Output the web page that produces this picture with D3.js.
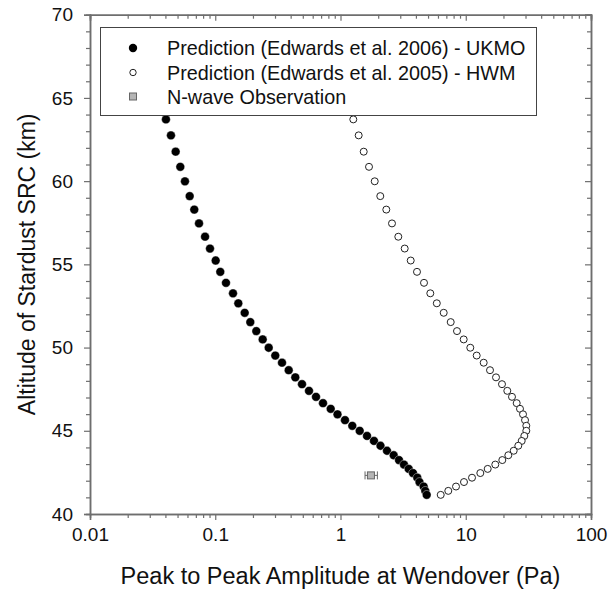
<!DOCTYPE html>
<html><head><meta charset="utf-8">
<script src="https://cdn.jsdelivr.net/npm/d3@7"></script>
<style>body{margin:0;background:#fff}svg{display:block}text{font-family:"Liberation Sans",Arial,sans-serif;fill:#111}</style>
</head><body>
<svg id="c" width="615" height="592"></svg>
<script>
// common altitudes (km) of the predictions
const altitudes = [63.71,62.75,61.77,60.86,59.99,59.10,58.29,57.46,56.66,55.95,55.23,54.55,53.89,53.26,52.66,52.09,51.53,50.99,50.49,49.99,49.52,49.09,48.64,48.21,47.80,47.40,47.04,46.66,46.32,45.99,45.64,45.30,45.00,44.69,44.39,44.10,43.80,43.53,43.24,42.97,42.71,42.46,42.18,41.92,41.65,41.39,41.15];
// UKMO prediction amplitude (Pa)
const ukmo = [0.0404,0.0443,0.0483,0.0526,0.0573,0.0625,0.0680,0.0742,0.0829,0.0908,0.1008,0.1097,0.1218,0.1386,0.1528,0.1718,0.1905,0.2127,0.2392,0.2672,0.3015,0.3412,0.3859,0.4356,0.4928,0.5604,0.6374,0.7250,0.8352,0.9463,1.086,1.242,1.423,1.628,1.851,2.086,2.351,2.660,2.932,3.214,3.504,3.792,4.104,4.273,4.616,4.753,4.878];
// HWM prediction amplitude (Pa)
const hwm = [1.265,1.397,1.532,1.689,1.876,2.078,2.321,2.577,2.894,3.255,3.636,4.080,4.642,5.212,5.874,6.668,7.585,8.513,9.630,10.87,12.23,13.91,15.62,17.44,19.47,21.47,23.40,25.51,27.11,28.65,29.73,30.44,30.44,29.35,27.97,26.27,24.14,21.87,19.58,17.21,14.97,13.07,11.22,9.683,8.360,7.255,6.310];
// N-wave observation
const obsAlt = [42.32];
const obsAmp = [1.75];
const obsLow = [1.57];
const obsHigh = [1.97];
const xTickLabels = ["0.01","0.1","1","10","100"];
const yTickLabels = ["40","45","50","55","60","65","70"];
const legendLabels = ["Prediction (Edwards et al. 2006) - UKMO","Prediction (Edwards et al. 2005) - HWM","N-wave Observation"];

const svg = d3.select("#c");
const L=90,R=591,T=14.7,B=514;
const x = d3.scaleLog().domain([0.01,100]).range([L,R]);
const y = d3.scaleLinear().domain([40,70]).range([B,T]);
const axisColor="#6e6e6e";

const xMajor = xTickLabels.map(Number);
const xMinor = [];
xMajor.slice(0,-1).forEach(m=>{for(let k=2;k<=9;k++) xMinor.push(m*k);});
const yMajor = yTickLabels.map(Number);
const yMinor = d3.range(40,71,1).filter(v=>v%5!==0);

const g = svg.append("g");
g.append("g").attr("transform",`translate(0,${B})`)
  .call(d3.axisBottom(x).tickValues(xMajor).tickFormat((d,i)=>xTickLabels[i]).tickSize(6).tickPadding(8));
g.append("g").attr("transform",`translate(0,${B})`)
  .call(d3.axisBottom(x).tickValues(xMinor).tickFormat("").tickSize(4));
g.append("g").attr("transform",`translate(0,${T})`)
  .call(d3.axisBottom(x).tickValues(xMajor).tickFormat("").tickSize(6));
g.append("g").attr("transform",`translate(0,${T})`)
  .call(d3.axisBottom(x).tickValues(xMinor).tickFormat("").tickSize(4));
g.append("g").attr("transform",`translate(${L},0)`)
  .call(d3.axisLeft(y).tickValues(yMajor).tickFormat((d,i)=>yTickLabels[i]).tickSize(6).tickPadding(11));
g.append("g").attr("transform",`translate(${L},0)`)
  .call(d3.axisLeft(y).tickValues(yMinor).tickFormat("").tickSize(4));
g.append("g").attr("transform",`translate(${R},0)`)
  .call(d3.axisLeft(y).tickValues(yMajor).tickFormat("").tickSize(6));
g.append("g").attr("transform",`translate(${R},0)`)
  .call(d3.axisLeft(y).tickValues(yMinor).tickFormat("").tickSize(4));

g.selectAll(".domain").attr("stroke",axisColor).attr("stroke-width",1.5);
g.selectAll(".tick line").attr("stroke",axisColor).attr("stroke-width",1.2);
g.selectAll(".tick text").attr("font-size",19).attr("fill","#111").attr("font-family",'"Liberation Sans",Arial,sans-serif');

svg.append("text").attr("x",(L+R)/2).attr("y",584).attr("text-anchor","middle").attr("font-size",23.5)
  .text("Peak to Peak Amplitude at Wendover (Pa)");
svg.append("text").attr("transform",`translate(35,${(T+B)/2}) rotate(-90)`).attr("text-anchor","middle").attr("font-size",23)
  .text("Altitude of Stardust SRC (km)");

svg.append("g").selectAll("circle").data(hwm).join("circle")
  .attr("cx",d=>x(d)).attr("cy",(d,i)=>y(altitudes[i])).attr("r",3.5)
  .attr("fill","#fff").attr("stroke","#222").attr("stroke-width",1);
svg.append("g").selectAll("circle").data(ukmo).join("circle")
  .attr("cx",d=>x(d)).attr("cy",(d,i)=>y(altitudes[i])).attr("r",4.4)
  .attr("fill","#000").attr("stroke","#fff").attr("stroke-width",0.4);

const obs = svg.append("g");
obsAmp.forEach((v,i)=>{
  const cy=y(obsAlt[i]);
  obs.append("line").attr("x1",x(obsLow[i])).attr("x2",x(obsHigh[i])).attr("y1",cy).attr("y2",cy).attr("stroke","#666");
  [obsLow[i],obsHigh[i]].forEach(e=>obs.append("line").attr("x1",x(e)).attr("x2",x(e)).attr("y1",cy-4).attr("y2",cy+4).attr("stroke","#666"));
  obs.append("rect").attr("x",x(v)-3.5).attr("y",cy-3.5).attr("width",7).attr("height",7).attr("fill","#b5b5b5").attr("stroke","#666");
});

const lg = svg.append("g");
lg.append("rect").attr("x",100.5).attr("y",27.5).attr("width",436).attr("height",88).attr("fill","#fff").attr("stroke","#444").attr("stroke-width",1);
const rows=[48,72.5,96.5];
lg.append("circle").attr("cx",133).attr("cy",rows[0]).attr("r",4.2).attr("fill","#000");
lg.append("circle").attr("cx",133).attr("cy",rows[1]).attr("r",3.2).attr("fill","#fff").attr("stroke","#222");
lg.append("rect").attr("x",129.5).attr("y",rows[2]-3.5).attr("width",7).attr("height",7).attr("fill","#b5b5b5").attr("stroke","#666");
legendLabels.forEach((t,i)=>lg.append("text").attr("x",167).attr("y",rows[i]).attr("dy","0.36em").attr("font-size",19.8).text(t));
</script>
</body></html>
